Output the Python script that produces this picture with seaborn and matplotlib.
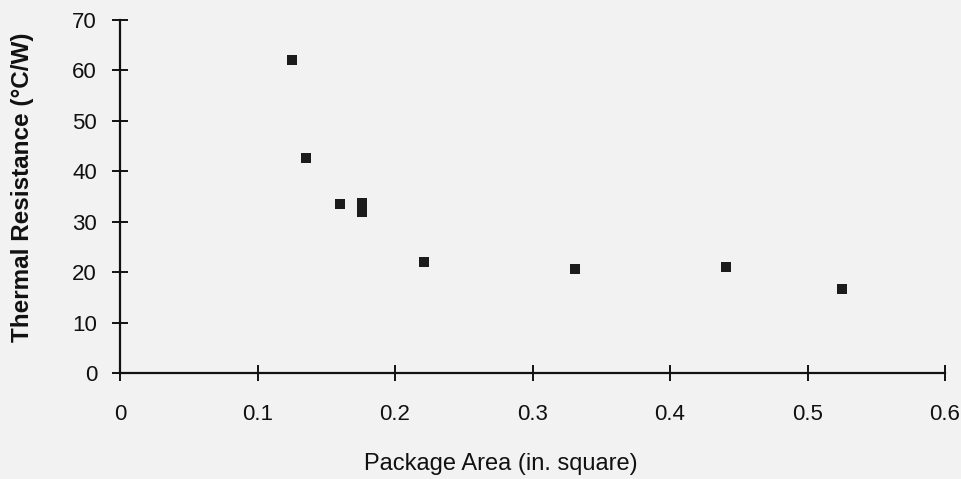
import matplotlib
matplotlib.use('Agg')
import matplotlib.pyplot as plt
from matplotlib.ticker import FuncFormatter
import seaborn as sns
import pandas as pd

# package area (in. square) vs thermal resistance (°C/W)
package_area = [0.125, 0.135, 0.160, 0.176, 0.176, 0.221, 0.331, 0.441, 0.525]
thermal_resistance = [62.0, 42.6, 33.6, 33.8, 31.9, 22.0, 20.6, 21.1, 16.6]

x_ticks = [0, 0.1, 0.2, 0.3, 0.4, 0.5, 0.6]
y_ticks = [0, 10, 20, 30, 40, 50, 60, 70]

df = pd.DataFrame({'area': package_area, 'rth': thermal_resistance})

sns.set_style('ticks')
plt.rcParams['font.family'] = ['Liberation Sans', 'DejaVu Sans']

bg = '#f2f2f2'
fig = plt.figure(figsize=(9.61, 4.79), dpi=100, facecolor=bg)
ax = fig.add_axes([0.1249, 0.2213, 0.8585, 0.7369])
ax.set_facecolor(bg)

sns.scatterplot(data=df, x='area', y='rth', marker='s', s=52,
                color='#1c1c1c', edgecolor='none', ax=ax, clip_on=False)

ax.set_xlim(0, 0.6)
ax.set_ylim(0, 70)
ax.set_xticks(x_ticks)
ax.set_yticks(y_ticks)
ax.xaxis.set_major_formatter(FuncFormatter(lambda v, p: f'{v:g}'))

for side in ['top', 'right']:
    ax.spines[side].set_visible(False)
for side in ['left', 'bottom']:
    ax.spines[side].set_linewidth(1.6)
    ax.spines[side].set_color('#111111')

ax.tick_params(axis='both', direction='inout', length=11, width=1.4,
               colors='#111111', labelsize=16)
ax.tick_params(axis='x', pad=17)
ax.tick_params(axis='y', pad=11)

ax.set_xlabel('Package Area (in. square)', fontsize=17, color='#111111')
ax.set_ylabel('Thermal Resistance (°C/W)', fontsize=17.5, fontweight='bold',
              color='#111111')
ax.xaxis.set_label_coords(0.462, -0.228)
ax.yaxis.set_label_coords(-0.104, 0.525)

plt.savefig('out.png', dpi=100, facecolor=bg)
plt.close()
